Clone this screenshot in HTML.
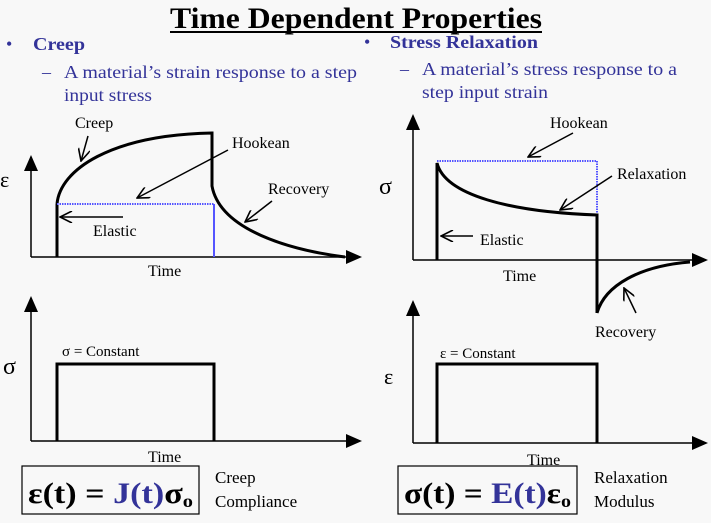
<!DOCTYPE html>
<html><head><meta charset="utf-8"><style>
html,body{margin:0;padding:0;background:#f8f8f8;}
svg{display:block;}
text{font-family:"Liberation Serif",serif;}
</style></head><body>
<svg width="711" height="523" viewBox="0 0 711 523" xmlns="http://www.w3.org/2000/svg">
<defs>
<marker id="ah" markerWidth="10" markerHeight="10" refX="9" refY="5" orient="auto" markerUnits="userSpaceOnUse">
<path d="M0,0 L10,5 L0,10 Z" fill="#000"/></marker>
<marker id="big" markerWidth="16" markerHeight="14" refX="14" refY="7" orient="auto" markerUnits="userSpaceOnUse">
<path d="M0,0 L16,7 L0,14 Z" fill="#000"/></marker>
<marker id="open" markerWidth="14" markerHeight="12" refX="13" refY="6" orient="auto" markerUnits="userSpaceOnUse">
<path d="M1,0 L13,6 L1,12" fill="none" stroke="#000" stroke-width="1.6"/></marker>
</defs>
<rect width="711" height="523" fill="#f8f8f8"/>
<!-- title -->
<text x="170" y="28" font-size="30" font-weight="bold" textLength="372" lengthAdjust="spacingAndGlyphs">Time Dependent Properties</text>
<line x1="170" y1="32" x2="542" y2="32" stroke="#000" stroke-width="2"/>
<!-- bullets -->
<g fill="#333399">
<text x="6" y="50" font-size="18">•</text>
<text x="33" y="50" font-size="18" font-weight="bold" textLength="52" lengthAdjust="spacingAndGlyphs">Creep</text>
<text x="42" y="78" font-size="18">–</text>
<text x="64" y="78" font-size="18" textLength="293" lengthAdjust="spacingAndGlyphs">A material’s strain response to a step</text>
<text x="64" y="101" font-size="18" textLength="88" lengthAdjust="spacingAndGlyphs">input stress</text>
<text x="364" y="48" font-size="18">•</text>
<text x="390" y="48" font-size="18" font-weight="bold" textLength="148" lengthAdjust="spacingAndGlyphs">Stress Relaxation</text>
<text x="400" y="75" font-size="18">–</text>
<text x="422" y="75" font-size="18" textLength="255" lengthAdjust="spacingAndGlyphs">A material’s stress response to a</text>
<text x="422" y="98" font-size="18" textLength="126" lengthAdjust="spacingAndGlyphs">step input strain</text>
</g>
<!-- top-left plot -->
<g fill="none" stroke="#000">
<line x1="31" y1="257" x2="31" y2="157" stroke-width="1.5" marker-end="url(#big)"/>
<line x1="31" y1="257" x2="360" y2="257" stroke-width="1.5" marker-end="url(#big)"/>
<line x1="57" y1="257" x2="57" y2="204" stroke-width="3"/>
<path d="M57,204 C60,170 110,135 212,133 L212,186 C220,230 290,250 345,257" stroke-width="3"/>
<line x1="57" y1="204" x2="214" y2="204" stroke="#5555ff" stroke-width="2" stroke-dasharray="1.5,1"/>
<line x1="214" y1="204" x2="214" y2="257" stroke="#5555ff" stroke-width="2"/>
<line x1="88" y1="136" x2="81" y2="161" stroke-width="1.5" marker-end="url(#open)"/>
<line x1="228" y1="150" x2="137" y2="198" stroke-width="1.5" marker-end="url(#open)"/>
<line x1="272" y1="201" x2="245" y2="222" stroke-width="1.5" marker-end="url(#open)"/>
<line x1="123" y1="217" x2="60" y2="217" stroke-width="1.5" marker-end="url(#open)"/>
</g>
<g font-size="16">
<text x="75" y="128">Creep</text>
<text x="232" y="148">Hookean</text>
<text x="268" y="194">Recovery</text>
<text x="93" y="236">Elastic</text>
<text x="148" y="276">Time</text>
<text x="0" y="187" font-size="22">ε</text>
</g>
<!-- top-right plot -->
<g fill="none" stroke="#000">
<line x1="413" y1="260" x2="413" y2="116" stroke-width="1.5" marker-end="url(#big)"/>
<line x1="413" y1="260" x2="706" y2="260" stroke-width="1.5" marker-end="url(#big)"/>
<line x1="437" y1="161" x2="597" y2="161" stroke="#5555ff" stroke-width="2" stroke-dasharray="1.5,1"/>
<line x1="597" y1="161" x2="597" y2="215" stroke="#5555ff" stroke-width="2" stroke-dasharray="1.5,1"/>
<path d="M437,260 L437,163 C445,195 510,212 597,215 L597,313" stroke-width="3"/>
<path d="M597,313 C605,285 640,266 690,262" stroke-width="3"/>
<line x1="573" y1="133" x2="528" y2="157" stroke-width="1.5" marker-end="url(#open)"/>
<line x1="612" y1="176" x2="560" y2="210" stroke-width="1.5" marker-end="url(#open)"/>
<line x1="473" y1="236" x2="441" y2="236" stroke-width="1.5" marker-end="url(#open)"/>
<line x1="636" y1="313" x2="624" y2="288" stroke-width="1.5" marker-end="url(#open)"/>
</g>
<g font-size="16">
<text x="550" y="128">Hookean</text>
<text x="617" y="179">Relaxation</text>
<text x="480" y="245">Elastic</text>
<text x="503" y="281">Time</text>
<text x="595" y="337">Recovery</text>
<text x="379" y="194" font-size="24">σ</text>
</g>
<!-- bottom-left plot -->
<g fill="none" stroke="#000">
<line x1="31" y1="441" x2="31" y2="298" stroke-width="1.5" marker-end="url(#big)"/>
<line x1="31" y1="441" x2="360" y2="441" stroke-width="1.5" marker-end="url(#big)"/>
<path d="M57,441 L57,364 L214,364 L214,441" stroke-width="3"/>
</g>
<text x="62" y="356" font-size="15">σ = Constant</text>
<text x="3" y="374" font-size="24">σ</text>
<text x="148" y="462" font-size="16">Time</text>
<!-- bottom-right plot -->
<g fill="none" stroke="#000">
<line x1="413" y1="443" x2="413" y2="302" stroke-width="1.5" marker-end="url(#big)"/>
<line x1="413" y1="443" x2="706" y2="443" stroke-width="1.5" marker-end="url(#big)"/>
<path d="M437,443 L437,364 L597,364 L597,443" stroke-width="3"/>
</g>
<text x="440" y="358" font-size="15">ε = Constant</text>
<text x="384" y="384" font-size="22">ε</text>
<text x="527" y="465" font-size="16">Time</text>
<!-- formulas -->
<rect x="22" y="466" width="177" height="48" fill="none" stroke="#000" stroke-width="1.2"/>
<text x="28" y="503" font-size="30" font-weight="bold" textLength="165" lengthAdjust="spacingAndGlyphs">ε(t) = <tspan fill="#333399">J(t)</tspan>σ<tspan font-size="18" dy="4">o</tspan></text>
<text x="215" y="483" font-size="17">Creep</text>
<text x="215" y="507" font-size="17">Compliance</text>
<rect x="398" y="466" width="179" height="48" fill="none" stroke="#000" stroke-width="1.2"/>
<text x="404" y="503" font-size="30" font-weight="bold" textLength="167" lengthAdjust="spacingAndGlyphs">σ(t) = <tspan fill="#333399">E(t)</tspan>ε<tspan font-size="18" dy="4">o</tspan></text>
<text x="594" y="483" font-size="17">Relaxation</text>
<text x="594" y="507" font-size="17">Modulus</text>
</svg>
</body></html>
